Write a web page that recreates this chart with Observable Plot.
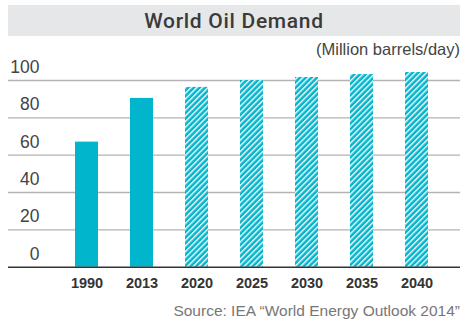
<!DOCTYPE html>
<html>
<head>
<meta charset="utf-8">
<script src="https://cdn.jsdelivr.net/npm/d3@7"></script>
<script src="https://cdn.jsdelivr.net/npm/@observablehq/plot@0.6"></script>
<style>
  html, body { margin: 0; padding: 0; background: #fff; }
  body { width: 460px; height: 322px; overflow: hidden; font-family: "Liberation Sans", Arial, sans-serif; }
  #title { margin: 5px 0 0 8px; height: 31px; line-height: 32px; background: #e6e7e8; text-align: center;
           font-family: Roboto, "Liberation Sans", sans-serif; font-size: 21px; font-weight: 500; color: #3a3a3a; letter-spacing: 0.7px; }
  #unit { height: 4px; position: relative; }
  #unit span { position: absolute; right: 0; top: 4px; font-size: 16.5px; color: #444; white-space: nowrap; }
  #chart { height: 256px; }
  #source { text-align: right; font-size: 15.5px; color: #777; margin-top: 6px; white-space: nowrap; }
</style>
</head>
<body>
<div id="title">World Oil Demand</div>
<div id="unit"><span>(Million barrels/day)</span></div>
<div id="chart"></div>
<div id="source">Source: IEA “World Energy Outlook 2014”</div>
<script>
const years = ["1990", "2013", "2020", "2025", "2030", "2035", "2040"];
const demand = [67, 90.4, 96.3, 100, 101.6, 103.2, 104.3];
const projected = [false, false, true, true, true, true, true];
const yTicks = [0, 20, 40, 60, 80, 100];

const data = years.map((y, i) => ({year: y, value: demand[i], projected: projected[i]}));
const teal = "#00b5cc";

const plot = Plot.plot({
  width: 460,
  height: 256,
  marginTop: 40,
  marginBottom: 29.3,
  marginLeft: 44,
  marginRight: 1,
  style: {fontFamily: "Liberation Sans, Arial, sans-serif", background: "transparent"},
  x: {domain: years, paddingInner: 0.589, paddingOuter: 0.5, label: null},
  y: {domain: [0, 100], label: null},
  marks: [
    Plot.ruleY(yTicks.filter(d => d > 0), {stroke: "#b3b3b3", strokeWidth: 1.3, insetLeft: -36, insetRight: -1}),
    Plot.barY(data, {x: "year", y: "value", fill: d => d.projected ? "url(#hatch)" : teal}),
    Plot.ruleY([0], {stroke: "#333", strokeWidth: 1.5, insetLeft: -36, insetRight: -1}),
    Plot.axisY({ticks: yTicks, tickSize: 0, tickPadding: 5, dy: -13, fontSize: 17.5, fill: "#444", label: null}),
    Plot.axisX({tickSize: 0, tickPadding: 11, fontSize: 14.5, fontWeight: "bold", fill: "#333", label: null})
  ]
});

// hatch pattern for projections
const svg = d3.select(plot);
const defs = svg.insert("defs", ":first-child");
const pat = defs.append("pattern")
  .attr("id", "hatch")
  .attr("patternUnits", "userSpaceOnUse")
  .attr("width", 4)
  .attr("height", 4)
  .attr("patternTransform", "rotate(45)");
pat.append("rect").attr("width", 4).attr("height", 4).attr("fill", teal);
pat.append("rect").attr("x", 0).attr("width", 1.4).attr("height", 4).attr("fill", "#fff");

document.getElementById("chart").appendChild(plot);
</script>
</body>
</html>
